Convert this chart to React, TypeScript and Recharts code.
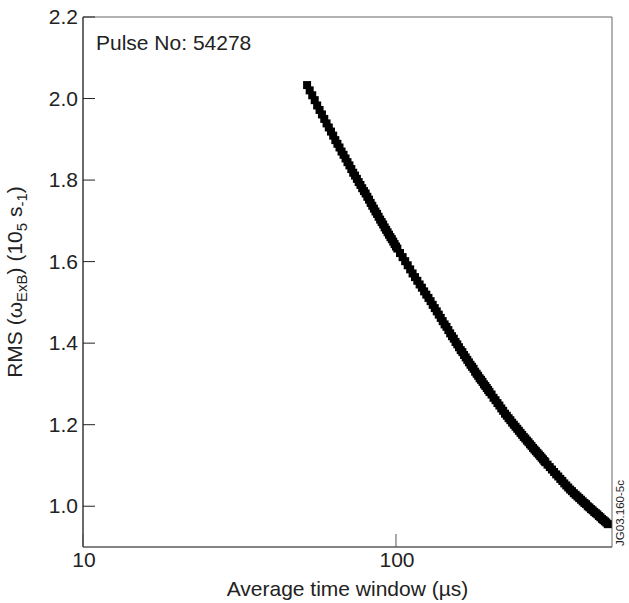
import { ScatterChart, Scatter, XAxis, YAxis, ReferenceArea } from "recharts";

// averaging window (µs) and RMS of omega_ExB (1e5 s^-1)
const windowUs = [
  52, 53, 54, 55, 56, 57, 58, 59, 60, 61, 62, 63, 64, 65, 66, 67, 68, 69, 70, 71, 72, 73, 74, 75,
  76, 77, 78, 79, 80, 81, 82, 83, 84, 85, 86, 87, 88, 89, 90, 91, 92, 93, 94, 95, 96, 97, 98, 99, 100,
  101, 103, 105, 107, 109, 111, 113, 115, 117, 119,
  121, 123, 125, 127, 129, 131, 133, 135, 137, 139, 141, 143, 145, 147, 149, 151, 153, 155, 157, 159,
  161, 163, 165, 167, 169, 171, 173, 175, 177, 179, 181, 183, 185, 187, 189, 191, 193, 195, 197, 199,
  202, 205, 208, 211, 214, 217, 220, 223, 226, 229, 232, 235, 238, 241, 244, 247, 250, 253, 256, 259,
  262, 265, 268, 271, 274, 277, 280, 283, 286, 289, 292, 295, 298,
  300, 305, 310, 315, 320, 325, 330, 335, 340, 345, 350, 355, 360, 365, 370, 375, 380, 385, 390, 395,
  400, 405, 410, 415, 420, 425, 430, 435, 440, 445, 450, 455, 460, 465, 470, 475,
];
const rmsValues = [
  2.033, 2.02, 2.008, 1.996, 1.983, 1.972, 1.961, 1.95, 1.939, 1.929, 1.919, 1.909, 1.898, 1.889,
  1.88, 1.87, 1.862, 1.853, 1.844, 1.836, 1.827, 1.818, 1.811, 1.803,
  1.795, 1.788, 1.78, 1.773, 1.767, 1.759, 1.752, 1.744, 1.737, 1.73, 1.723, 1.717, 1.71, 1.703,
  1.697, 1.691, 1.684, 1.678, 1.672, 1.666, 1.66, 1.655, 1.649, 1.643, 1.637,
  1.632, 1.621, 1.611, 1.601, 1.591, 1.581, 1.571, 1.562, 1.553, 1.544,
  1.536, 1.527, 1.519, 1.511, 1.503, 1.494, 1.486, 1.478, 1.47, 1.462, 1.454, 1.446, 1.44, 1.432,
  1.424, 1.417, 1.411, 1.403, 1.397, 1.39, 1.383, 1.378, 1.371, 1.365, 1.359, 1.353, 1.347, 1.342,
  1.337, 1.33, 1.325, 1.32, 1.314, 1.31, 1.305, 1.299, 1.295, 1.29, 1.285, 1.28,
  1.274, 1.266, 1.26, 1.253, 1.247, 1.24, 1.234, 1.227, 1.222, 1.216, 1.211, 1.205, 1.2, 1.195,
  1.19, 1.185, 1.18, 1.175, 1.17, 1.166, 1.161, 1.157, 1.152, 1.148, 1.143, 1.139, 1.135, 1.131,
  1.127, 1.123, 1.119, 1.115, 1.111,
  1.108, 1.102, 1.096, 1.09, 1.084, 1.078, 1.073, 1.067, 1.062, 1.056, 1.051, 1.046, 1.041, 1.037,
  1.032, 1.028, 1.024, 1.02, 1.016, 1.012, 1.008, 1.005, 1.0, 0.997, 0.993, 0.99, 0.986, 0.983,
  0.98, 0.976, 0.973, 0.969, 0.966, 0.963, 0.96, 0.956,
];
const xTicks = [10, 100];
const yTicks = [1.0, 1.2, 1.4, 1.6, 1.8, 2.0, 2.2];

const data = windowUs.map((x, i) => ({ x, y: rmsValues[i] }));

const FONT = "'Liberation Sans', Arial, Helvetica, sans-serif";
const INK = "#222";

function YTick({ x, y, payload }: any) {
  return (
    <g>
      <line x1={x} x2={x + 12} y1={y} y2={y} stroke={INK} strokeWidth={1} />
      <text x={x - 5} y={y} dy={7} textAnchor="end" fontSize={21} fill={INK} fontFamily={FONT}>
        {payload.value.toFixed(1)}
      </text>
    </g>
  );
}

function XTick({ x, y, payload }: any) {
  return (
    <g>
      <line x1={x} x2={x} y1={y} y2={y - 13} stroke="#555" strokeWidth={1} />
      <text x={x + 1} y={y + 20} textAnchor="middle" fontSize={21} fill={INK} fontFamily={FONT}>
        {payload.value}
      </text>
    </g>
  );
}

function XLabel({ viewBox }: any) {
  return (
    <text
      x={viewBox.x + viewBox.width / 2}
      y={viewBox.y + 49}
      textAnchor="middle"
      fontSize={21}
      fill={INK}
      fontFamily={FONT}
    >
      Average time window (µs)
    </text>
  );
}

function YLabel({ viewBox }: any) {
  const cx = viewBox.x + 15;
  const cy = viewBox.y + viewBox.height / 2;
  return (
    <text
      x={cx}
      y={cy}
      transform={`rotate(-90 ${cx} ${cy})`}
      textAnchor="middle"
      fontSize={21}
      fill={INK}
      fontFamily={FONT}
      dy={7}
    >
      RMS (ω
      <tspan fontSize={15} dy={5}>ExB</tspan>
      <tspan dy={-5}>) (10</tspan>
      <tspan fontSize={15} dy={5}>5</tspan>
      <tspan dy={-5}> s</tspan>
      <tspan fontSize={15} dy={5}>-1</tspan>
      <tspan dy={-5}>)</tspan>
    </text>
  );
}

function BoxLabels({ viewBox }: any) {
  const { x, y, width, height } = viewBox;
  const jx = x + width + 12;
  const jy = y + height - 34;
  return (
    <g fontFamily={FONT} fill={INK}>
      <text x={x + 13} y={y + 33} fontSize={21}>
        Pulse No: 54278
      </text>
      <text
        x={jx}
        y={jy}
        fontSize={11.5}
        textAnchor="middle"
        transform={`rotate(-90 ${jx} ${jy})`}
      >
        JG03.160-5c
      </text>
    </g>
  );
}

const Square = (props: any) => (
  <rect x={props.cx - 4} y={props.cy - 4} width={8} height={8} fill="#000" />
);

export default function App() {
  return (
    <div style={{ position: "absolute", left: 0, top: 0, width: 629, height: 603, background: "#fff" }}>
      <ScatterChart width={629} height={603} margin={{ top: 17, right: 17, left: 0, bottom: 0 }}>
        <XAxis
          dataKey="x"
          type="number"
          scale="log"
          domain={[10, 490]}
          ticks={xTicks}
          allowDataOverflow
          height={56}
          tickSize={0}
          tickMargin={0}
          tickLine={false}
          axisLine={{ stroke: "#555" }}
          tick={<XTick />}
          label={{ content: XLabel }}
        />
        <YAxis
          dataKey="y"
          type="number"
          domain={[0.9, 2.2]}
          ticks={yTicks}
          allowDataOverflow
          width={83}
          tickSize={0}
          tickMargin={0}
          tickLine={false}
          axisLine={{ stroke: INK }}
          tick={<YTick />}
          label={{ content: YLabel }}
        />
        <ReferenceArea
          x1={10}
          x2={490}
          y1={0.9}
          y2={2.2}
          fill="none"
          stroke="#666"
          strokeWidth={1}
          label={{ content: BoxLabels }}
        />
        <Scatter data={data} shape={Square} isAnimationActive={false} />
      </ScatterChart>
    </div>
  );
}
